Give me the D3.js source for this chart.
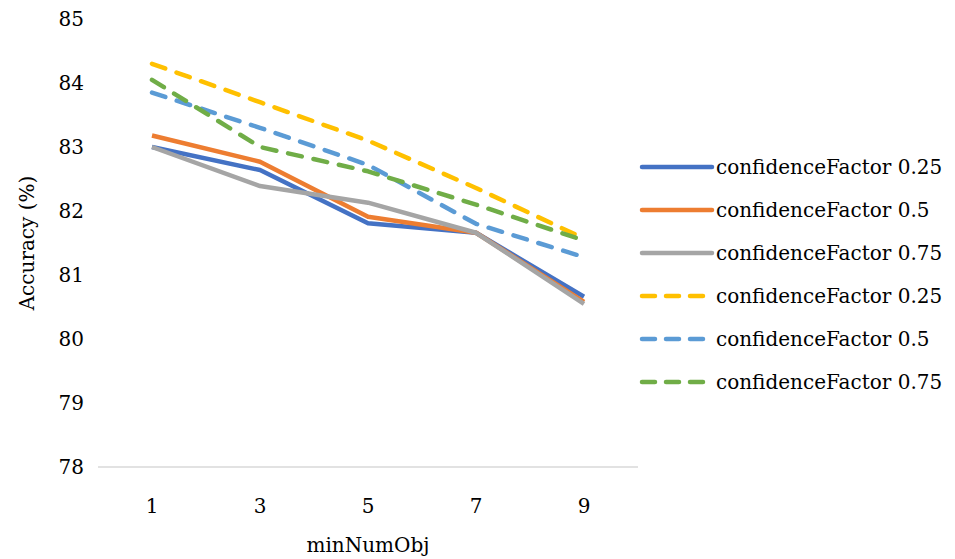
<!DOCTYPE html>
<html>
<head>
<meta charset="utf-8">
<script src="https://cdn.jsdelivr.net/npm/d3@7"></script>
<style>
  body { margin: 0; background: #fff; }
  svg text { font-family: "DejaVu Serif", serif; fill: #000; }
</style>
</head>
<body>
<div id="chart"></div>
<script>
// minNumObj values on the x axis
var categories = ["1", "3", "5", "7", "9"];
var yTicks = [78, 79, 80, 81, 82, 83, 84, 85];

// accuracy (%) per series
var solid025 = [83.0, 82.64, 81.81, 81.66, 80.66];
var solid05  = [83.18, 82.77, 81.91, 81.66, 80.58];
var solid075 = [83.0, 82.39, 82.13, 81.66, 80.55];
var dash025  = [84.3, 83.7, 83.1, 82.36, 81.57];
var dash05   = [83.85, 83.3, 82.72, 81.8, 81.28];
var dash075  = [84.05, 83.0, 82.62, 82.1, 81.54];

var series = [
  {name: "confidenceFactor 0.25", values: solid025, color: "#4472C4", dashed: false},
  {name: "confidenceFactor 0.5",  values: solid05,  color: "#ED7D31", dashed: false},
  {name: "confidenceFactor 0.75", values: solid075, color: "#A5A5A5", dashed: false},
  {name: "confidenceFactor 0.25", values: dash025,  color: "#FFC000", dashed: true},
  {name: "confidenceFactor 0.5",  values: dash05,   color: "#5B9BD5", dashed: true},
  {name: "confidenceFactor 0.75", values: dash075,  color: "#70AD47", dashed: true}
];

var width = 955, height = 559;
var margin = {top: 19, bottom: 92, left: 98, right: 317};
var fontSize = "20px";

var svg = d3.select("#chart")
  .append("svg")
  .attr("width", width)
  .attr("height", height);

var x = d3.scaleBand()
  .domain(categories)
  .range([margin.left, width - margin.right]);

var y = d3.scaleLinear()
  .domain([78, 85])
  .range([height - margin.bottom, margin.top]);

// y tick labels (no axis line)
svg.selectAll(".ytick")
  .data(yTicks)
  .enter()
  .append("text")
  .attr("class", "ytick")
  .attr("x", 84)
  .attr("y", function(d){ return y(d); })
  .attr("dy", "0.35em")
  .style("text-anchor", "end")
  .style("font-size", fontSize)
  .text(function(d){ return d; });

// bottom axis line
svg.append("line")
  .attr("x1", margin.left)
  .attr("x2", width - margin.right)
  .attr("y1", y(78))
  .attr("y2", y(78))
  .attr("stroke", "#d9d9d9")
  .attr("stroke-width", 1.5);

// x tick labels
svg.selectAll(".xtick")
  .data(categories)
  .enter()
  .append("text")
  .attr("class", "xtick")
  .attr("x", function(d){ return x(d) + x.bandwidth() / 2; })
  .attr("y", 513)
  .style("text-anchor", "middle")
  .style("font-size", fontSize)
  .text(function(d){ return d; });

// axis titles
svg.append("text")
  .attr("x", 368)
  .attr("y", 552)
  .style("text-anchor", "middle")
  .style("font-size", fontSize)
  .text("minNumObj");

svg.append("text")
  .attr("transform", "translate(34,243) rotate(-90)")
  .style("text-anchor", "middle")
  .style("font-size", fontSize)
  .text("Accuracy (%)");

var line = d3.line()
  .x(function(d, i){ return x(categories[i]) + x.bandwidth() / 2; })
  .y(function(d){ return y(d); });

svg.selectAll(".series")
  .data(series)
  .enter()
  .append("path")
  .attr("class", "series")
  .attr("d", function(d){ return line(d.values); })
  .attr("fill", "none")
  .attr("stroke", function(d){ return d.color; })
  .attr("stroke-width", 4.5)
  .attr("stroke-linejoin", "round")
  .attr("stroke-linecap", function(d){ return d.dashed ? "round" : "butt"; })
  .attr("stroke-dasharray", function(d){ return d.dashed ? "14 12" : null; });

// legend
var legend = svg.selectAll(".legend")
  .data(series)
  .enter()
  .append("g")
  .attr("class", "legend")
  .attr("transform", function(d, i){ return "translate(640," + (167 + i * 43) + ")"; });

legend.append("line")
  .attr("x1", 2)
  .attr("x2", function(d){ return d.dashed ? 70 : 72; })
  .attr("stroke", function(d){ return d.color; })
  .attr("stroke-width", 4.5)
  .attr("stroke-linecap", "round")
  .attr("stroke-dasharray", function(d){ return d.dashed ? "13 11" : null; });

legend.append("text")
  .attr("x", 76)
  .attr("dy", "0.35em")
  .style("font-size", fontSize)
  .text(function(d){ return d.name; });
</script>
</body>
</html>
